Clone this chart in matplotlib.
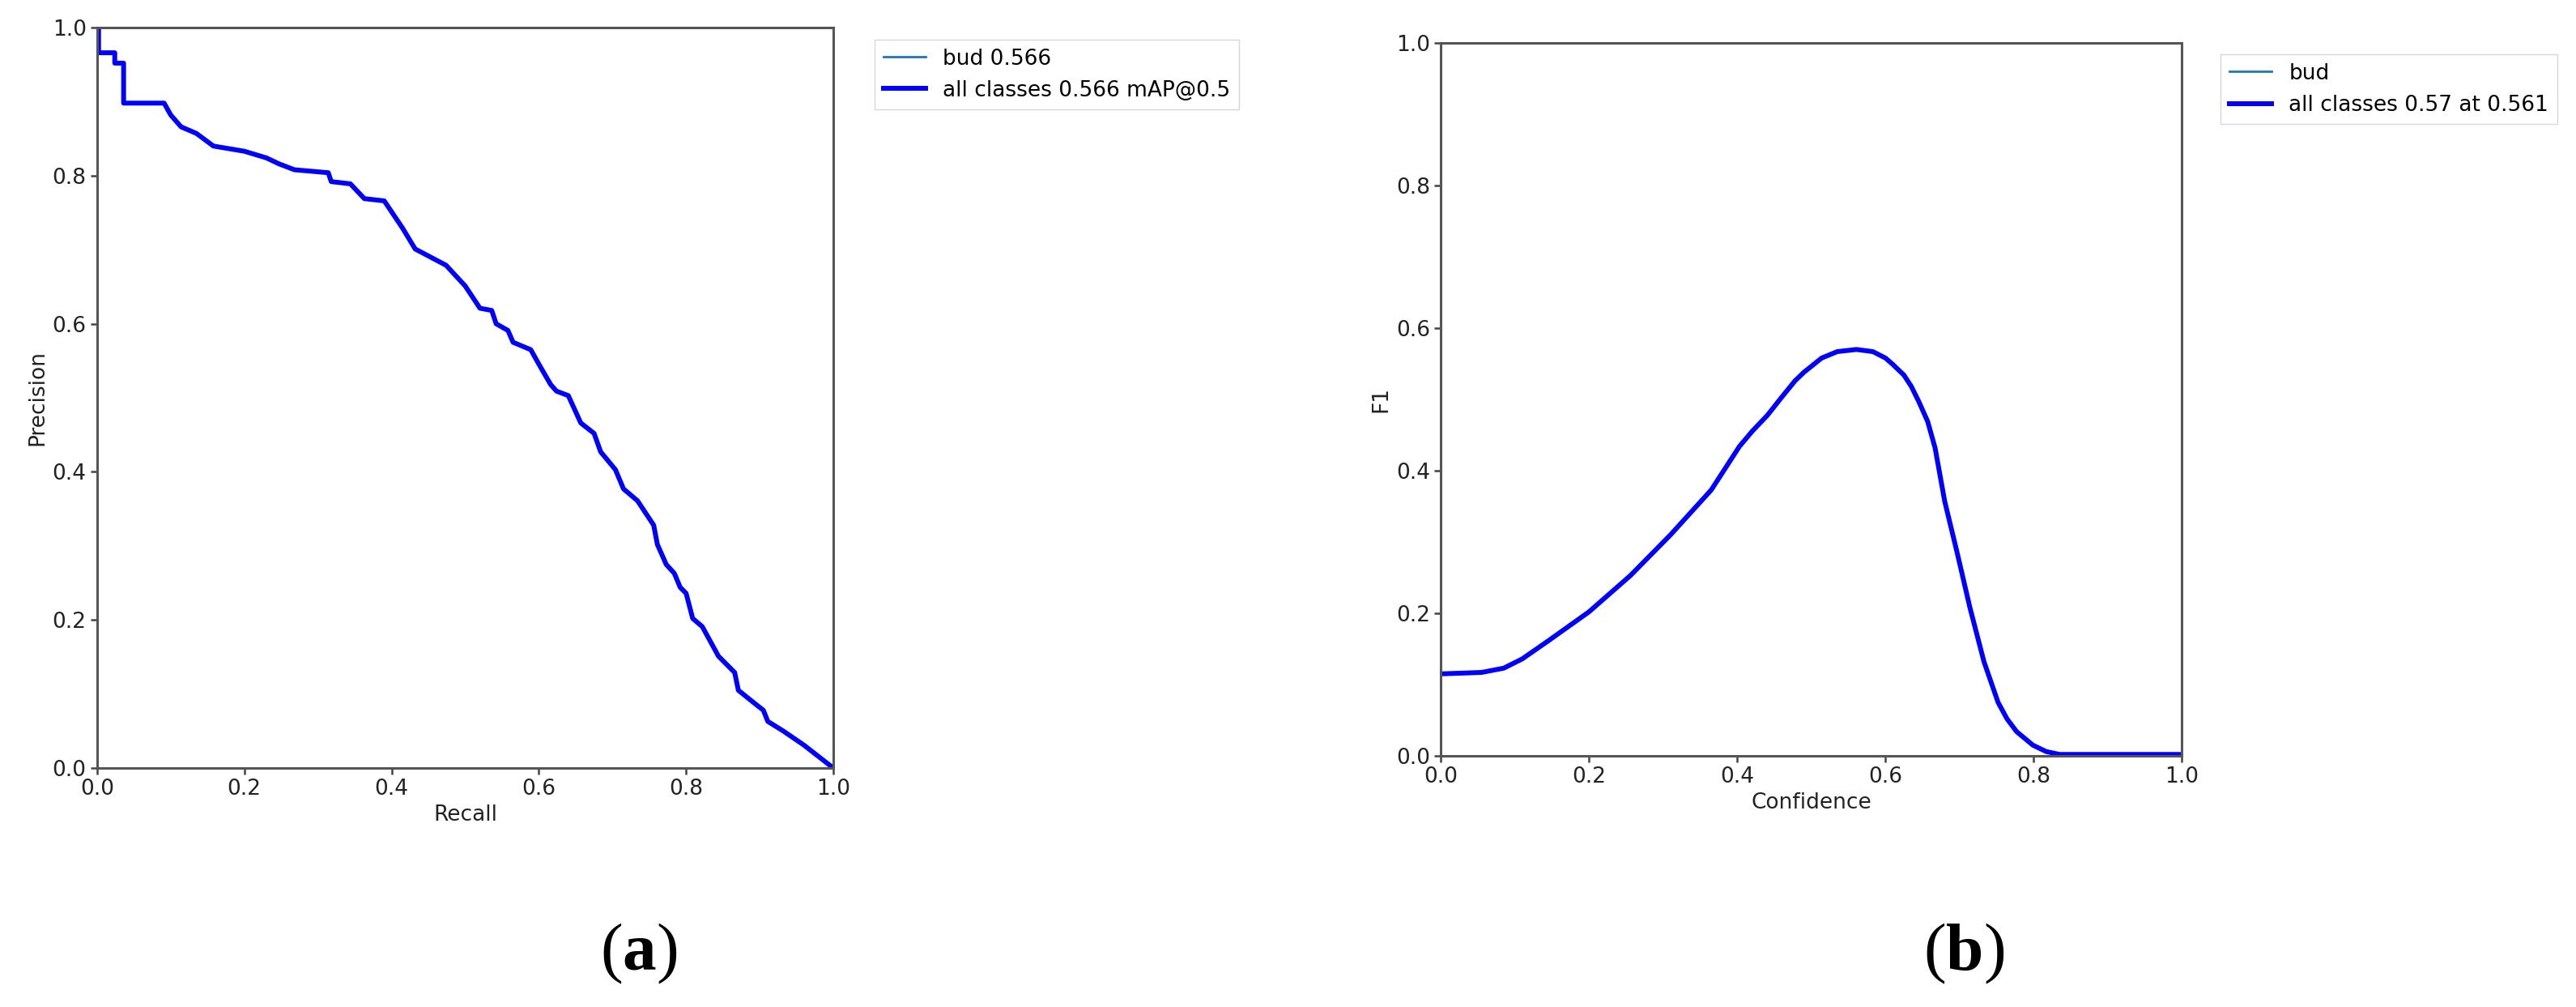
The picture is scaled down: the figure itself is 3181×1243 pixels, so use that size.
import matplotlib
matplotlib.use("Agg")
import matplotlib.pyplot as plt

# PR curve (recall, precision)
recall = [0.0, 0.002, 0.002, 0.024, 0.024, 0.036, 0.036, 0.091, 0.100, 0.114, 0.135,
          0.158, 0.200, 0.230, 0.247, 0.268, 0.314, 0.318, 0.344, 0.363, 0.390,
          0.415, 0.432, 0.474, 0.500, 0.520, 0.536, 0.542, 0.558, 0.565, 0.589,
          0.602, 0.616, 0.624, 0.640, 0.657, 0.675, 0.684, 0.704, 0.715, 0.734,
          0.748, 0.756, 0.761, 0.773, 0.784, 0.792, 0.800, 0.809, 0.822, 0.844,
          0.866, 0.871, 0.891, 0.905, 0.911, 0.932, 0.960, 1.0]
precision = [1.0, 1.0, 0.966, 0.966, 0.952, 0.952, 0.898, 0.898, 0.882, 0.866, 0.857,
             0.840, 0.833, 0.824, 0.816, 0.808, 0.804, 0.792, 0.789, 0.769, 0.766,
             0.729, 0.701, 0.679, 0.651, 0.621, 0.618, 0.600, 0.591, 0.575, 0.565,
             0.542, 0.518, 0.509, 0.503, 0.466, 0.452, 0.427, 0.403, 0.377, 0.361,
             0.340, 0.328, 0.302, 0.275, 0.263, 0.244, 0.236, 0.202, 0.191, 0.151,
             0.129, 0.105, 0.089, 0.078, 0.063, 0.050, 0.031, 0.0]

# F1 curve (confidence, f1)
conf = [0.0, 0.055, 0.085, 0.11, 0.146, 0.2, 0.256, 0.31, 0.365, 0.403, 0.42,
        0.441, 0.46, 0.478, 0.49, 0.514, 0.535, 0.561, 0.583, 0.60, 0.610,
        0.625, 0.635, 0.645, 0.657, 0.667, 0.680, 0.697, 0.714, 0.733, 0.752,
        0.764, 0.777, 0.799, 0.817, 0.835, 1.0]
f1 = [0.115, 0.117, 0.123, 0.136, 0.162, 0.202, 0.253, 0.310, 0.373, 0.434, 0.455,
      0.478, 0.503, 0.526, 0.538, 0.558, 0.567, 0.570, 0.567, 0.558, 0.549,
      0.534, 0.518, 0.497, 0.469, 0.432, 0.357, 0.284, 0.208, 0.132, 0.075,
      0.052, 0.034, 0.015, 0.006, 0.002, 0.002]

pr_labels = ["bud 0.566", "all classes 0.566 mAP@0.5"]
f1_labels = ["bud", "all classes 0.57 at 0.561"]
ticks = [0.0, 0.2, 0.4, 0.6, 0.8, 1.0]

plt.rcParams['font.family'] = 'DejaVu Sans'
plt.rcParams['mathtext.fontset'] = 'custom'
plt.rcParams['mathtext.rm'] = 'Liberation Serif'
plt.rcParams['mathtext.bf'] = 'Liberation Serif:bold'

fig = plt.figure(figsize=(31.81, 12.43), dpi=100)
ax1 = fig.add_axes([0.0377, 0.2373, 0.2858, 0.7353])
ax2 = fig.add_axes([0.5593, 0.2494, 0.2877, 0.7080])

fs = 19
for ax in (ax1, ax2):
    ax.set_xlim(0, 1)
    ax.set_ylim(0, 1)
    ax.set_xticks(ticks)
    ax.set_yticks(ticks)
    ax.tick_params(labelsize=fs, length=6, width=1.8, color='#444444', labelcolor='#222222')
    for s in ax.spines.values():
        s.set_color('#555555')
        s.set_linewidth(2.2)

# left: precision-recall
ax1.plot(recall, precision, linewidth=2, color='C0', label=pr_labels[0])
ax1.plot(recall, precision, linewidth=4.3, color='blue', label=pr_labels[1])
ax1.set_xlabel("Recall", fontsize=fs, color='#222222')
ax1.set_ylabel("Precision", fontsize=fs, color='#222222')
ax1.legend(loc='upper left', bbox_to_anchor=(0.3395, 0.9606), bbox_transform=fig.transFigure,
           borderaxespad=0, fontsize=fs, fancybox=False)

# right: F1-confidence
ax2.plot(conf, f1, linewidth=2, color='C0', label=f1_labels[0])
ax2.plot(conf, f1, linewidth=4.3, color='blue', label=f1_labels[1])
ax2.set_xlabel("Confidence", fontsize=fs, color='#222222')
ax2.set_ylabel("F1", fontsize=fs, color='#222222')
ax2.legend(loc='upper left', bbox_to_anchor=(0.862, 0.946), bbox_transform=fig.transFigure,
           borderaxespad=0, fontsize=fs, fancybox=False)

# panel letters
fig.text(789 / 3181, 1 - 1177 / 1243, r'($\mathbf{a}$)', fontsize=60, family='Liberation Serif',
         ha='center', va='center')
fig.text(2425 / 3181, 1 - 1177 / 1243, r'($\mathbf{b}$)', fontsize=60, family='Liberation Serif',
         ha='center', va='center')

fig.savefig('out.png', dpi=100)
